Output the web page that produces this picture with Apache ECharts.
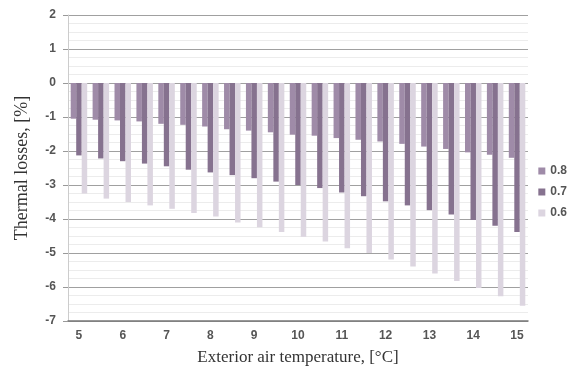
<!DOCTYPE html>
<html><head><meta charset="utf-8">
<script src="https://cdn.jsdelivr.net/npm/echarts@6/dist/echarts.min.js"></script>
<style>html,body{margin:0;padding:0;background:#fff}#c{width:574px;height:371px}</style>
</head><body><div id="c"></div>
<script>
const categories = ['5','5.5','6','6.5','7','7.5','8','8.5','9','9.5','10','10.5','11','11.5','12','12.5','13','13.5','14','14.5','15'];
const seriesNames = ['0.8','0.7','0.6'];
const s08 = [-1.05,-1.08,-1.1,-1.13,-1.2,-1.23,-1.28,-1.36,-1.4,-1.45,-1.52,-1.55,-1.62,-1.67,-1.72,-1.79,-1.87,-1.94,-2.04,-2.11,-2.2];
const s07 = [-2.13,-2.22,-2.3,-2.37,-2.45,-2.55,-2.63,-2.71,-2.8,-2.9,-3.0,-3.09,-3.22,-3.33,-3.48,-3.6,-3.74,-3.87,-4.03,-4.2,-4.38];
const s06 = [-3.25,-3.4,-3.5,-3.6,-3.7,-3.82,-3.93,-4.1,-4.24,-4.38,-4.52,-4.66,-4.86,-5.0,-5.19,-5.4,-5.6,-5.82,-6.03,-6.27,-6.55];
const yTicks = {min: -7, max: 2, step: 1};
const colors = ['#9f8ba8','#86728f','#dcd5e0'];

const chart = echarts.init(document.getElementById('c'), null, {renderer:'canvas'});
const vals = [s08, s07, s06];
chart.setOption({
  animation: false,
  backgroundColor: '#fff',
  grid: {left: 68, right: 46, top: 15, bottom: 49},
  legend: {
    orient: 'vertical', right: 2, top: 160, itemWidth: 7, itemHeight: 7, itemGap: 9,
    icon: 'rect', data: seriesNames,
    textStyle: {fontFamily: 'Liberation Sans', fontSize: 12, fontWeight: 'bold', color: '#555'}
  },
  xAxis: {
    type: 'category', data: categories,
    name: 'Exterior air temperature, [°C]', nameLocation: 'middle', nameGap: 28,
    nameTextStyle: {fontFamily: 'Liberation Serif', fontSize: 17, color: '#333'},
    axisLine: {onZero: false, lineStyle: {color: '#777', width: 1.5}},
    axisTick: {show: false},
    axisLabel: {interval: 1, margin: 9, fontFamily: 'Liberation Sans', fontSize: 12, fontWeight: 'bold', color: '#555'},
    splitLine: {show: false}
  },
  yAxis: {
    type: 'value', min: yTicks.min, max: yTicks.max, interval: yTicks.step,
    name: 'Thermal losses, [%]', nameLocation: 'middle', nameGap: 37, nameRotate: 90,
    nameTextStyle: {fontFamily: 'Liberation Serif', fontSize: 18, color: '#333'},
    axisLine: {show: true, lineStyle: {color: '#ccc'}},
    axisTick: {show: true, length: 5, lineStyle: {color: '#999'}},
    axisLabel: {margin: 12, fontFamily: 'Liberation Sans', fontSize: 12, fontWeight: 'bold', color: '#555'},
    splitLine: {show: true, lineStyle: {color: '#a0a0a0', width: 1}},
    minorTick: {show: false, splitNumber: 4},
    minorSplitLine: {show: true, lineStyle: {color: '#ececec', width: 1}}
  },
  series: seriesNames.map((n, i) => ({
    name: n, type: 'bar', data: vals[i], barWidth: 5.5, barGap: '0%',
    itemStyle: {color: colors[i]}
  }))
});
</script></body></html>
